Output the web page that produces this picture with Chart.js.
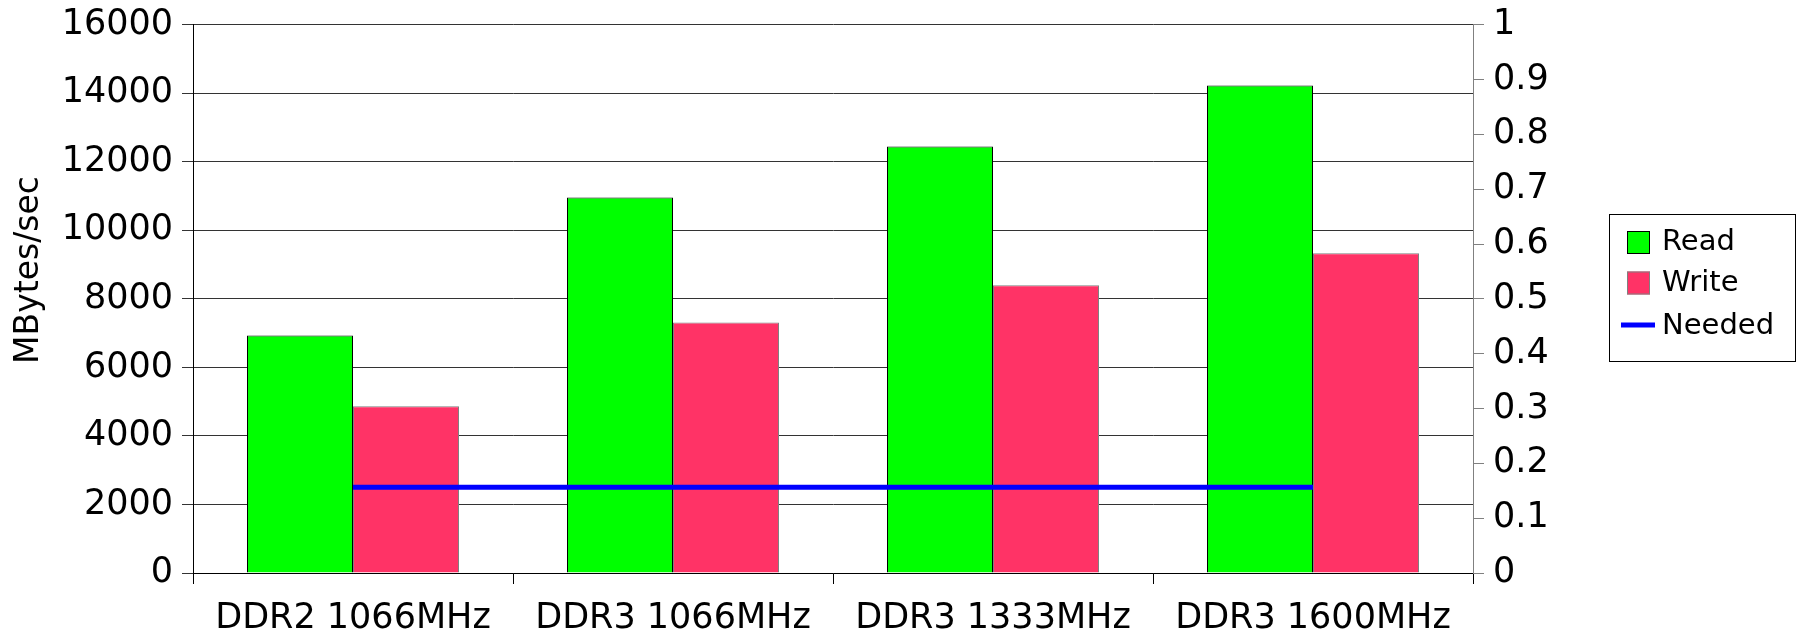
<!DOCTYPE html>
<html>
<head>
<meta charset="utf-8">
<script src="https://cdn.jsdelivr.net/npm/chart.js@4.4.1/dist/chart.umd.min.js"></script>
<style>
  body { margin: 0; background: #fff; }
  canvas { display: block; }
</style>
</head>
<body>
<canvas id="mycanvas" width="1796" height="630"></canvas>
<script>
var kategorie = ['DDR2 1066MHz', 'DDR3 1066MHz', 'DDR3 1333MHz', 'DDR3 1600MHz'];
var odczyt = [6930, 10960, 12450, 14230];
var zapis = [4870, 7310, 8400, 9330];
var potrzebne = [2500, 2500, 2500, 2500];
var lewaOs = [0, 2000, 4000, 6000, 8000, 10000, 12000, 14000, 16000];
var prawaOs = [0, 0.1, 0.2, 0.3, 0.4, 0.5, 0.6, 0.7, 0.8, 0.9, 1];

var FONT = 'DejaVu Sans';

// podpis osi Y i legenda w ramce, rysowane recznie
var dodatki = {
	id: 'dodatki',
	afterDraw: function(chart) {
		var ctx = chart.ctx;
		ctx.save();
		ctx.fillStyle = '#000';
		ctx.font = '33px "' + FONT + '"';
		ctx.translate(29, 270);
		ctx.rotate(-Math.PI / 2);
		ctx.textAlign = 'center';
		ctx.textBaseline = 'middle';
		ctx.fillText('MBytes/sec', 0, 0);
		ctx.restore();

		ctx.save();
		ctx.strokeStyle = '#000';
		ctx.lineWidth = 1;
		ctx.strokeRect(1609.5, 214.5, 186, 147);
		var ds = chart.data.datasets;
		var wiersze = [242.5, 283, 326];
		ctx.font = '29px "' + FONT + '"';
		ctx.textBaseline = 'middle';
		ctx.textAlign = 'left';
		for (var i = 0; i < ds.length; i++) {
			var y = wiersze[i];
			if (ds[i].type === 'line') {
				ctx.strokeStyle = ds[i].borderColor;
				ctx.lineWidth = 5;
				ctx.beginPath();
				ctx.moveTo(1621, y - 1);
				ctx.lineTo(1655, y - 1);
				ctx.stroke();
			} else {
				ctx.fillStyle = ds[i].backgroundColor;
				ctx.fillRect(1627, y - 11.5, 23, 23);
				ctx.strokeStyle = ds[i].borderColor;
				ctx.lineWidth = 1;
				ctx.strokeRect(1627.5, y - 11, 22, 22);
			}
			ctx.fillStyle = '#000';
			ctx.fillText(ds[i].label, 1662, y);
		}
		ctx.restore();
	}
};

var chartdata = {
	labels: kategorie,
	datasets: [
		{
			label: 'Read',
			type: 'bar',
			backgroundColor: '#00ff00',
			borderColor: '#000000',
			borderWidth: 1,
			data: odczyt,
			order: 1
		},
		{
			label: 'Write',
			type: 'bar',
			backgroundColor: '#ff3366',
			borderColor: '#808080',
			borderWidth: 1,
			data: zapis,
			order: 1
		},
		{
			label: 'Needed',
			type: 'line',
			borderColor: '#0000ff',
			backgroundColor: '#0000ff',
			borderWidth: 5,
			pointRadius: 0,
			fill: false,
			data: potrzebne,
			order: 0
		}
	]
};

var ctx = document.getElementById('mycanvas');

var wykres = new Chart(ctx, {
	data: chartdata,
	plugins: [dodatki],
	options: {
		responsive: false,
		animation: false,
		devicePixelRatio: 1,
		layout: { padding: { left: 0, top: 18, right: 223, bottom: 0 } },
		datasets: { bar: { categoryPercentage: 0.6625, barPercentage: 1 } },
		plugins: { legend: { display: false }, tooltip: { enabled: false } },
		scales: {
			x: {
				offset: true,
				grid: { offset: true, drawOnChartArea: false, drawTicks: true, tickLength: 11, color: '#000' },
				border: { color: '#000' },
				ticks: { color: '#000', font: { family: FONT, size: 35 }, padding: 14, maxRotation: 0, autoSkip: false },
				afterFit: function(s) { s.height = 57; }
			},
			y: {
				position: 'left',
				min: lewaOs[0],
				max: lewaOs[lewaOs.length - 1],
				afterBuildTicks: function(s) { s.ticks = lewaOs.map(function(v) { return { value: v }; }); },
				grid: { color: '#333', tickLength: 11 },
				border: { color: '#000' },
				ticks: {
					color: '#000', font: { family: FONT, size: 35, lineHeight: 0.9 }, padding: 9,
					callback: function(v) { return String(v); }
				},
				afterFit: function(s) { s.width = 193; }
			},
			y1: {
				position: 'right',
				min: 0,
				max: 1,
				afterBuildTicks: function(s) { s.ticks = prawaOs.map(function(v) { return { value: v }; }); },
				grid: { drawOnChartArea: false, color: '#808080', tickLength: 11 },
				border: { color: '#808080' },
				ticks: {
					color: '#000', font: { family: FONT, size: 35, lineHeight: 0.9 }, padding: 9,
					callback: function(v) { return String(Math.round(v * 10) / 10); }
				},
				afterFit: function(s) { s.width = 100; }
			}
		}
	}
});
</script>
</body>
</html>
